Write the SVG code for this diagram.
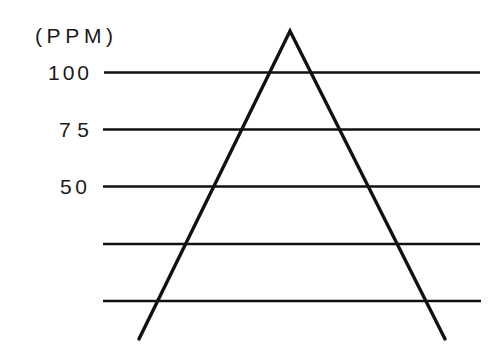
<svg xmlns="http://www.w3.org/2000/svg" width="498" height="353" viewBox="0 0 498 353">
<style>
.lbl{font-family:"Liberation Sans",Arial,sans-serif;font-size:21px;fill:#1a1a1a}
.h{stroke:#111;stroke-width:2.7;fill:none}
.t{stroke:#111;stroke-width:3.4;fill:none;stroke-linecap:round;stroke-linejoin:miter}
</style>
<rect width="498" height="353" fill="#fff"/>
<g id="labels">
<text class="lbl" x="35" y="43" textLength="78" lengthAdjust="spacing">(PPM)</text>
<text class="lbl" x="48" y="80" textLength="41" lengthAdjust="spacing">100</text>
<text class="lbl" x="59" y="137" textLength="30" lengthAdjust="spacing">75</text>
<text class="lbl" x="60" y="194" textLength="27" lengthAdjust="spacing">50</text>
</g>
<g id="levels">
<line class="h" x1="104" y1="72.5" x2="480" y2="72.5"/>
<line class="h" x1="103" y1="129.5" x2="480" y2="129.5"/>
<line class="h" x1="103" y1="186.5" x2="480" y2="186.5"/>
<line class="h" x1="103" y1="244" x2="480" y2="244"/>
<line class="h" x1="103" y1="301" x2="481" y2="301"/>
</g>
<g id="triangle">
<polyline class="t" points="139,339 290,31 445,339"/>
</g>
</svg>
